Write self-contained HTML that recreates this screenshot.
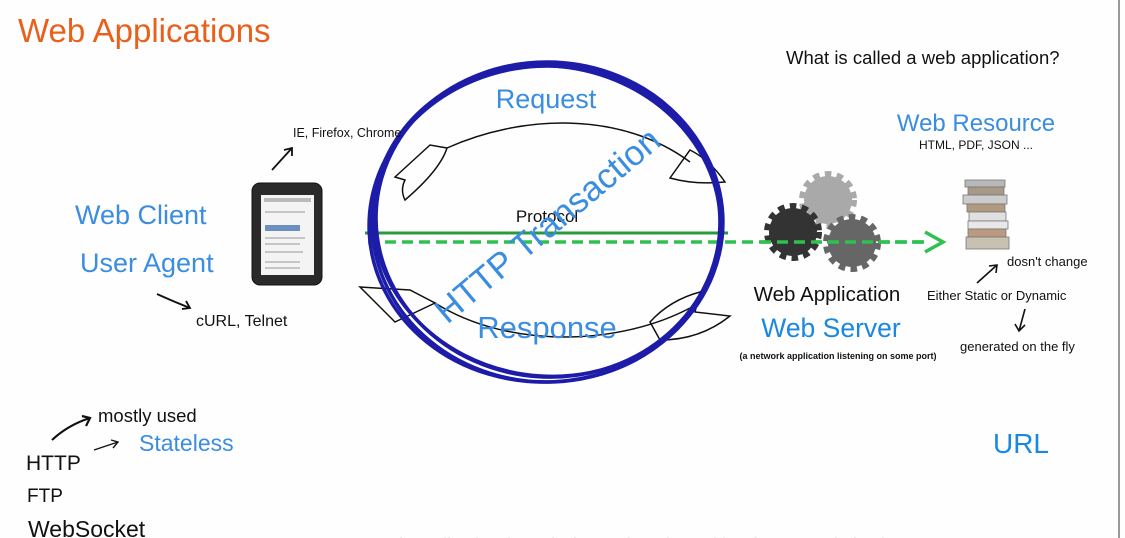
<!DOCTYPE html>
<html><head><meta charset="utf-8"><style>
html,body{margin:0;padding:0;background:#fff;}
body{width:1125px;height:538px;overflow:hidden;position:relative;font-family:"Liberation Sans",sans-serif;}
svg{position:absolute;left:0;top:0;}
</style></head><body>
<svg width="1125" height="538" viewBox="0 0 1125 538" xmlns="http://www.w3.org/2000/svg" font-family="Liberation Sans, sans-serif">
<rect width="1125" height="538" fill="#fefefe"/>
<line x1="1119" y1="0" x2="1119" y2="538" stroke="#999" stroke-width="2"/>
<text x="18" y="42" font-size="33" fill="#e8601c">Web Applications</text>
<text x="786" y="64" font-size="18.5" fill="#111">What is called a web application?</text>

<!-- tablet -->
<rect x="252" y="183" width="70" height="102" rx="8" fill="#2a2a2a" stroke="#111"/>
<rect x="261" y="195" width="53" height="80" fill="#f4f4f4"/>
<rect x="264" y="198" width="47" height="4" fill="#bbb"/>
<rect x="265" y="225" width="35" height="6" fill="#6a8fc0"/>
<g stroke="#999" stroke-width="1"><line x1="265" y1="212" x2="305" y2="212"/><line x1="265" y1="238" x2="305" y2="238"/><line x1="265" y1="244" x2="300" y2="244"/><line x1="265" y1="252" x2="303" y2="252"/><line x1="265" y1="262" x2="300" y2="262"/><line x1="265" y1="268" x2="300" y2="268"/></g>

<!-- request/response arcs -->
<g fill="none" stroke="#111" stroke-width="1.5">
<path d="M447 148 C520 115 620 110 690 162"/>
<path d="M395 177 L430 145 L447 148 Q440 170 405 200 Q400 190 405 180 Z"/>
<path d="M670 178 L690 150 Q710 160 725 182 Q695 185 670 178 Z"/>
<path d="M435 303 C510 350 620 345 690 308"/>
<path d="M360 287 L410 290 L435 303 L395 322 Z"/>
<path d="M650 322 Q670 300 700 292 L695 312 L730 316 Q700 340 660 340 Z"/>
</g>

<!-- protocol lines -->
<line x1="365" y1="233" x2="728" y2="233" stroke="#2a9a3a" stroke-width="3"/>
<line x1="368" y1="242" x2="925" y2="242" stroke="#2fc050" stroke-width="3.5" stroke-dasharray="11,6"/>
<path d="M925 232 L943 242 L925 252" fill="none" stroke="#2fc050" stroke-width="3.5"/>

<!-- circle -->
<g fill="none" stroke="#1c1ca8" stroke-width="3.5">
<ellipse cx="547" cy="222" rx="175" ry="160"/>
<ellipse cx="548" cy="220" rx="172" ry="157" transform="rotate(4 548 220)"/>
<ellipse cx="546" cy="224" rx="177" ry="158" transform="rotate(-3 546 224)"/>
<ellipse cx="547" cy="221" rx="174" ry="155" transform="rotate(8 547 221)"/>
</g>

<text x="546" y="108" font-size="27" fill="#3a8de0" text-anchor="middle">Request</text>
<text x="547" y="338" font-size="31" fill="#3a8de0" text-anchor="middle">Response</text>
<text x="547" y="222" font-size="17" fill="#111" text-anchor="middle">Protocol</text>
<text x="548" y="237" font-size="35" fill="#3a8de0" text-anchor="middle" transform="rotate(-40 548 226)">HTTP Transaction</text>

<text x="293" y="137" font-size="12.5" fill="#111">IE, Firefox, Chrome</text>
<path d="M272 170 L292 148 M284 150 L292 148 L292 156" fill="none" stroke="#111" stroke-width="1.8"/>
<text x="75" y="224" font-size="27" fill="#3a8de0">Web Client</text>
<text x="80" y="272" font-size="27" fill="#3a8de0">User Agent</text>
<path d="M157 294 Q170 300 190 308 M182 309 L190 308 L186 301" fill="none" stroke="#111" stroke-width="1.8"/>
<text x="196" y="326" font-size="16" fill="#111">cURL, Telnet</text>

<!-- gears -->
<g>
<circle cx="828" cy="200" r="24" fill="#a9a9a9" stroke="#a9a9a9" stroke-width="10" stroke-dasharray="6,5"/>
<circle cx="793" cy="232" r="24" fill="#333" stroke="#333" stroke-width="10" stroke-dasharray="6,5"/>
<circle cx="852" cy="243" r="24" fill="#666" stroke="#666" stroke-width="10" stroke-dasharray="6,5"/>
</g>
<line x1="760" y1="242" x2="925" y2="242" stroke="#2fc050" stroke-width="3.5" stroke-dasharray="11,6"/>

<!-- books -->
<g stroke="#777" stroke-width="0.8">
<rect x="965" y="180" width="40" height="7" fill="#b8b8b8"/>
<rect x="968" y="187" width="36" height="8" fill="#a89888"/>
<rect x="963" y="195" width="44" height="9" fill="#ccc"/>
<rect x="967" y="204" width="38" height="8" fill="#b09a80"/>
<rect x="969" y="212" width="37" height="9" fill="#e0e0e0"/>
<rect x="968" y="221" width="40" height="8" fill="#e8e8e8"/>
<rect x="968" y="229" width="38" height="8" fill="#bb9a80"/>
<rect x="966" y="237" width="43" height="12" fill="#c8c0b0"/>
</g>
<text x="976" y="131" font-size="24" fill="#3a8de0" text-anchor="middle">Web Resource</text>
<text x="976" y="149" font-size="12" fill="#111" text-anchor="middle">HTML, PDF, JSON ...</text>
<text x="1007" y="266" font-size="13" fill="#111">dosn't change</text>
<path d="M977 283 L997 265 M989 266 L997 265 L996 273" fill="none" stroke="#111" stroke-width="1.6"/>
<text x="927" y="300" font-size="13" fill="#111">Either Static or Dynamic</text>
<path d="M1025 309 L1019 331 M1015 324 L1019 331 L1025 325" fill="none" stroke="#111" stroke-width="1.6"/>
<text x="960" y="351" font-size="13" fill="#111">generated on the fly</text>
<text x="827" y="301" font-size="20.5" fill="#111" text-anchor="middle">Web Application</text>
<text x="831" y="337" font-size="26.5" fill="#1a88e0" text-anchor="middle">Web Server</text>
<text x="838" y="359" font-size="9" fill="#111" font-weight="bold" text-anchor="middle">(a network application listening on some port)</text>
<text x="1021" y="453" font-size="28" fill="#1a88e0" text-anchor="middle">URL</text>

<text x="98" y="422" font-size="18.5" fill="#111">mostly used</text>
<path d="M52 440 Q68 425 90 418 M82 416 L90 418 L86 426" fill="none" stroke="#111" stroke-width="2.2"/>
<path d="M94 450 L118 442 M111 440 L118 442 L113 448" fill="none" stroke="#111" stroke-width="1.4"/>
<text x="139" y="451" font-size="23" fill="#3a8de0">Stateless</text>
<text x="26" y="470" font-size="21" fill="#111">HTTP</text>
<text x="27" y="502" font-size="19" fill="#111">FTP</text>
<text x="28" y="537" font-size="23" fill="#111">WebSocket</text>
<text x="330" y="551" font-size="18" fill="#ccc">a network application (2011/07) transfers data with a format and also be</text>
</svg>
</body></html>
